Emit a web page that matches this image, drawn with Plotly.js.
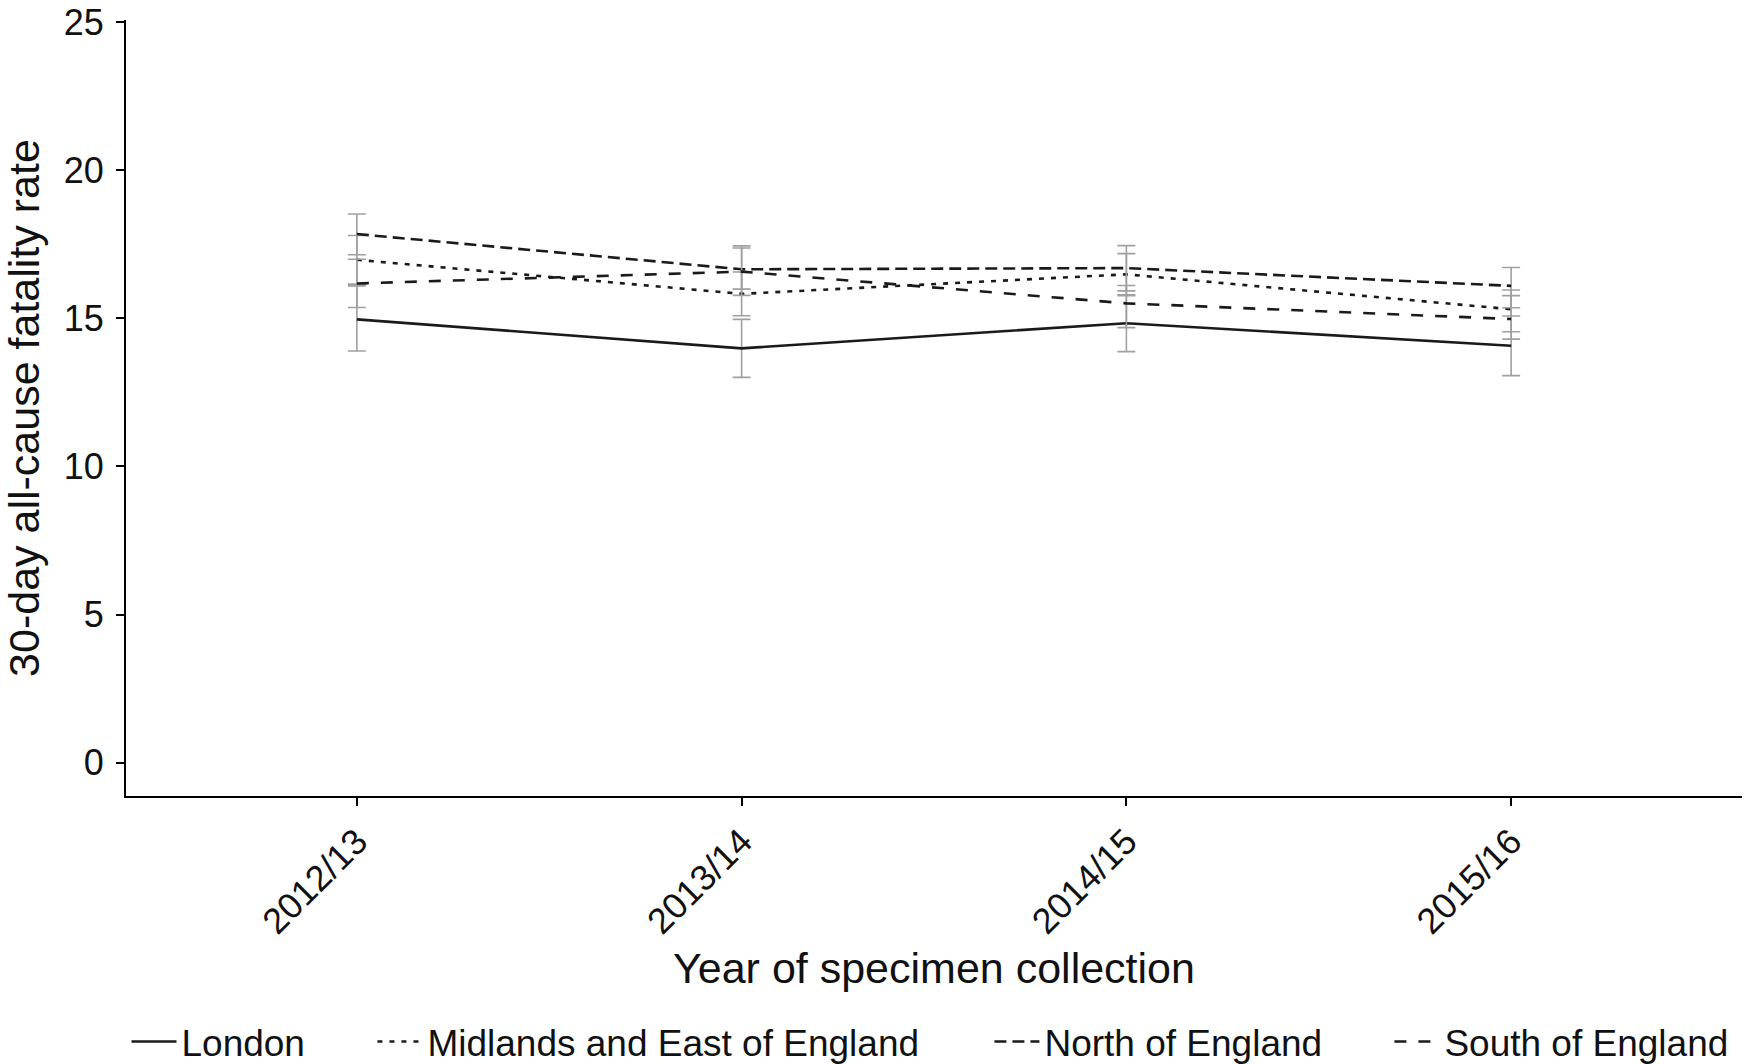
<!DOCTYPE html>
<html>
<head>
<meta charset="utf-8">
<script src="https://cdn.plot.ly/plotly-3.0.1.min.js"></script>
<style>html,body{margin:0;padding:0;background:#fff;}#chart{width:1753px;height:1064px;}</style>
</head>
<body>
<div id="chart"></div>
<script>
// Data
const years = ['2012/13', '2013/14', '2014/15', '2015/16'];

const londonRate = [14.97, 13.99, 14.84, 14.08];
const londonLow  = [13.90, 13.01, 13.88, 13.07];
const londonHigh = [16.10, 14.97, 15.80, 15.08];

const midlandsRate = [16.98, 15.83, 16.49, 15.31];
const midlandsLow  = [16.16, 15.09, 15.77, 14.55];
const midlandsHigh = [17.80, 16.57, 17.19, 15.96];

const northRate = [17.85, 16.66, 16.70, 16.10];
const northLow  = [17.15, 15.99, 15.93, 15.36];
const northHigh = [18.53, 17.45, 17.46, 16.72];

const southRate = [16.18, 16.58, 15.51, 14.98];
const southLow  = [15.37, 15.78, 14.69, 14.30];
const southHigh = [17.00, 17.38, 16.11, 15.77];

const seriesNames = ['London', 'Midlands and East of England', 'North of England', 'South of England'];
const yTicks = [0, 5, 10, 15, 20, 25];

const FONT = 'Liberation Sans, Arial, sans-serif';

function makeTrace(name, rate, low, high, dash, legendId) {
  return {
    type: 'scatter',
    mode: 'lines',
    x: years,
    y: rate,
    name: name,
    legend: legendId,
    line: {color: '#1a1a1a', width: 2.6, dash: dash},
    error_y: {
      type: 'data',
      symmetric: false,
      array: high.map((h, i) => h - rate[i]),
      arrayminus: low.map((l, i) => rate[i] - l),
      color: '#a0a0a0',
      thickness: 1.6,
      width: 9
    }
  };
}

const traces = [
  makeTrace(seriesNames[0], londonRate, londonLow, londonHigh, 'solid', 'legend'),
  makeTrace(seriesNames[1], midlandsRate, midlandsLow, midlandsHigh, '5px,7px', 'legend2'),
  makeTrace(seriesNames[2], northRate, northLow, northHigh, '12px,6px', 'legend3'),
  makeTrace(seriesNames[3], southRate, southLow, southHigh, '12px,12px', 'legend4')
];

function legendAt(x) {
  return {
    x: x, y: -0.317, xanchor: 'left', yanchor: 'middle',
    orientation: 'h', bgcolor: 'rgba(0,0,0,0)',
    itemwidth: 45,
    font: {family: FONT, size: 37, color: '#111'}
  };
}

const layout = {
  width: 1753,
  height: 1064,
  paper_bgcolor: '#fff',
  plot_bgcolor: '#fff',
  margin: {l: 126, r: 11, t: 20, b: 268, autoexpand: false},
  showlegend: true,
  legend: legendAt(0.0003),
  legend2: legendAt(0.1525),
  legend3: legendAt(0.5343),
  legend4: legendAt(0.7818),
  xaxis: {
    type: 'category',
    range: [-0.6, 3.6],
    showline: true, linecolor: '#000', linewidth: 2,
    showgrid: false, zeroline: false,
    ticks: 'outside', ticklen: 8, tickwidth: 2, tickcolor: '#000',
    tickangle: -45,
    tickfont: {family: FONT, size: 36, color: '#111'},
    title: {text: 'Year of specimen collection', font: {family: FONT, size: 43, color: '#111'}, standoff: 12},
    automargin: false
  },
  yaxis: {
    range: [-1.13, 25.08],
    tickvals: yTicks,
    ticktext: yTicks.map(String),
    showline: true, linecolor: '#000', linewidth: 2,
    showgrid: false, zeroline: false,
    ticks: 'outside', ticklen: 8, tickwidth: 2, tickcolor: '#000',
    ticklabelstandoff: 5,
    tickfont: {family: FONT, size: 36, color: '#111'},
    title: {text: '30-day all-cause fatality rate', font: {family: FONT, size: 43, color: '#111'}, standoff: 12},
    automargin: false
  }
};

Plotly.newPlot('chart', traces, layout, {displayModeBar: false, staticPlot: true});
</script>
</body>
</html>
